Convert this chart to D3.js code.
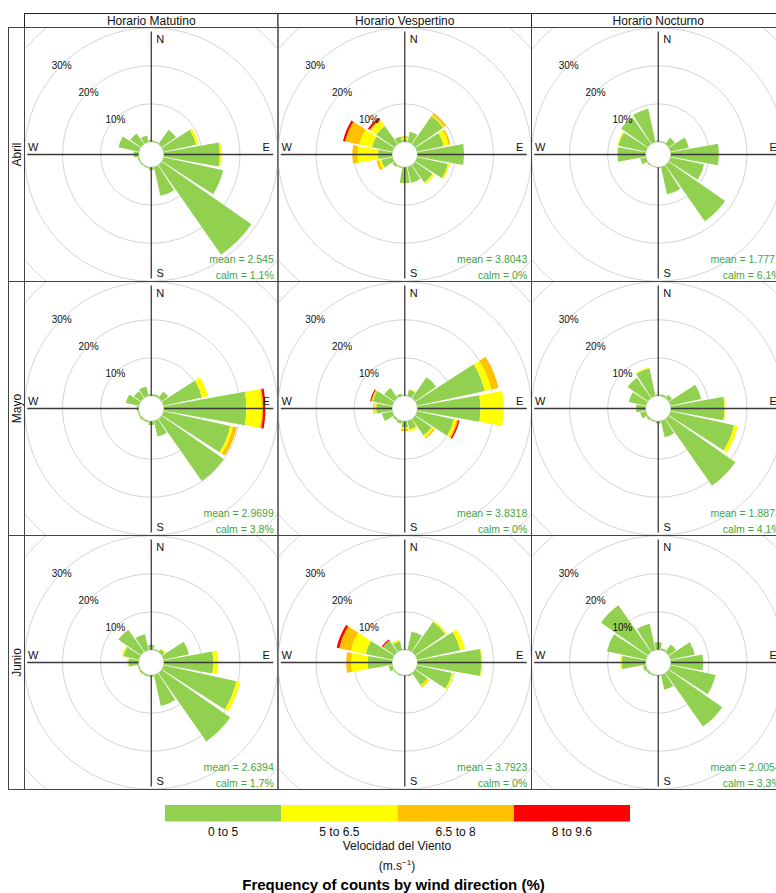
<!DOCTYPE html>
<html>
<head>
<meta charset="utf-8">
<script src="https://cdn.jsdelivr.net/npm/d3@7"></script>
<style>
  html, body { margin: 0; padding: 0; background: #fff; }
  svg { display: block; font-family: Arial, "Liberation Sans", Helvetica, sans-serif; }
</style>
</head>
<body>
<svg id="chart" width="776" height="893"></svg>
<script>
// Wind direction sectors (degrees from north, clockwise), 16 sectors
const directions = [0, 22.5, 45, 67.5, 90, 112.5, 135, 157.5, 180, 202.5, 225, 247.5, 270, 292.5, 315, 337.5];
const months = ["Abril", "Mayo", "Junio"];
const periods = ["Horario Matutino", "Horario Vespertino", "Horario Nocturno"];
const speedBins = ["0 to 5", "5 to 6.5", "6.5 to 8", "8 to 9.6"];
const binColors = ["#92D050", "#FFFF00", "#FFC000", "#FF0000"];
const ringValues = [10, 20, 30];

// Frequency (%) per sector, one row per speed bin: [0-5, 5-6.5, 6.5-8, 8-9.6]
//                   N    NNE  NE   ENE   E     ESE   SE    SSE  S    SSW  SW   WSW  W    WNW  NW   NNW
const abrilMatutino = [
  [0.5, 0.3, 4.6, 8.7, 14.7, 16.0, 28.8, 7.8, 0.8, 0.3, 0.3, 0.3, 1.3, 5.5, 3.4, 1.8],
  [0,   0,   0,   0.7, 0.4,  0,    0,    0,   0,   0,   0,   0,   0,   0,   0,   0],
  [0,   0,   0,   0,   0,    0,    0,    0,   0,   0,   0,   0,   0,   0,   0,   0],
  [0,   0,   0,   0,   0,    0,    0,    0,   0,   0,   0,   0,   0,   0,   0,   0]
];
const abrilVespertino = [
  [0.6, 2.8, 9.0, 7.2, 12.3, 8.3, 5.6, 4.3, 4.2, 0.3, 0.7, 3.0, 3.7, 5.5, 5.8, 1.5],
  [0.5, 0,   0.3, 1.3, 0,    0.4, 0.5, 0,   0,   0,   0,   0.6, 5.4, 3.4, 1.8, 0],
  [0.4, 0,   0.6, 0.5, 0,    0,   0,   0,   0,   0,   0,   0.7, 1.4, 3.8, 0.4, 0],
  [0,   0,   0,   0,   0,    0,   0,   0,   0,   0,   0,   0,   0,   0.6, 0.5, 0]
];
const abrilNocturno = [
  [0.3, 0.3, 2.0, 4.9, 12.6, 9.0, 18.1, 7.4, 0.2, 0.2, 0.3, 1.5, 7.4, 7.4, 8.6, 9.0],
  [0,   0,   0,   0,   0,    0,   0,    0,   0,   0,   0,   0,   0,   0.3, 0,   0],
  [0,   0,   0,   0,   0,    0,   0,    0,   0,   0,   0,   0,   0,   0,   0,   0],
  [0,   0,   0,   0,   0,    0,   0,    0,   0,   0,   0,   0,   0,   0,   0,   0]
];
const mayoMatutino = [
  [0.5, 0.5, 2.1, 10.3, 21.7, 18.0, 19.9, 4.2, 1.0, 0.4, 0.5, 0.3, 0.5, 3.5, 2.2, 2.6],
  [0,   0,   0,   1.6,  4.0,  0.7,  0,    0,   0,   0,   0,   0,   0,   0,   0,   0],
  [0,   0,   0,   0,    0.4,  1.0,  0,    0,   0,   0,   0,   0,   0,   0,   0,   0],
  [0,   0,   0,   0,    0.6,  0,    0,    0,   0,   0,   0,   0,   0,   0,   0,   0]
];
const mayoVespertino = [
  [0.3, 1.7, 6.7, 18.2, 16.6, 9.9, 5.3, 2.3, 1.7, 0.8, 0.5, 2.8, 4.2, 5.3, 3.2, 0.7],
  [0,   0.3, 0,   1.8,  6.1,  0.7, 0.6, 0.5, 0.4, 0,   0,   0,   0.5, 0.4, 0,   0],
  [0,   0,   0,   1.9,  0,    0.4, 0.4, 0,   0.5, 0,   0,   0,   0.3, 0,   0,   0],
  [0,   0,   0,   0,    0,    0.4, 0,   0,   0,   0,   0,   0,   0,   0.3, 0,   0]
];
const mayoNocturno = [
  [0.4, 0.5, 1.1, 8.2, 14.1, 17.1, 21.4, 4.4, 0.6, 0.3, 0.5, 1.5, 2.5, 4.6, 6.5, 7.5],
  [0,   0,   0,   0,   0.2,  1.0,  0,    0,   0,   0,   0,   0,   0,   0,   0,   0.3],
  [0,   0,   0,   0,   0,    0,    0,    0,   0,   0,   0,   0,   0,   0,   0,   0],
  [0,   0,   0,   0,   0,    0,    0,    0,   0,   0,   0,   0,   0,   0,   0,   0]
];
const junioMatutino = [
  [1.3, 0.3, 0.9, 6.8, 13.0, 19.6, 22.0, 8.4, 0.5, 0.4, 0.5, 0.3, 2.7, 4.2, 7.2, 4.3],
  [0,   0,   0.3, 0,   1.3,  1.0,  0,    0,   0,   0,   0,   0,   0.3, 0.4, 0,   0],
  [0,   0,   0,   0,   0,    0,    0,    0,   0,   0,   0,   0,   0,   0,   0,   0],
  [0,   0,   0,   0,   0,    0,    0,    0,   0,   0,   0,   0,   0,   0,   0,   0]
];
const junioVespertino = [
  [0.3, 5.0, 9.7, 11.6, 16.8, 9.4, 4.0, 0.4, 0.3, 0.3, 0.3, 1.0, 6.4, 7.2, 3.7, 2.4],
  [0,   0,   0.4, 1.3,  0.3,  0.4, 0.3, 0,   0,   0,   0,   0,   4.4, 4.0, 0,   0.4],
  [0,   0,   0,   0,    0,    0,   0.3, 0,   0,   0,   0,   0,   1.3, 3.1, 0,   0],
  [0,   0,   0,   0,    0,    0,   0,   0,   0,   0,   0,   0,   0,   0.7, 0.3, 0]
];
const junioNocturno = [
  [2.0, 0.5, 2.4, 6.5, 8.5, 12.1, 17.2, 4.0, 0.3, 0.3, 0.5, 0.8, 6.3, 10.5, 15.0, 7.1],
  [0,   0,   0,   0,   0,   0,    0,    0,   0,   0,   0,   0,   0.4, 0,    0,    0],
  [0,   0,   0,   0,   0,   0,    0,    0,   0,   0,   0,   0,   0,   0,    0,    0],
  [0,   0,   0,   0,   0,   0,    0,    0,   0,   0,   0,   0,   0,   0,    0,    0]
];

const panelData = [
  [abrilMatutino, abrilVespertino, abrilNocturno],
  [mayoMatutino, mayoVespertino, mayoNocturno],
  [junioMatutino, junioVespertino, junioNocturno]
];
const meanSpeeds = [
  ["2.545", "3.8043", "1.7771"],
  ["2.9699", "3.8318", "1.8873"],
  ["2.6394", "3.7923", "2.0054"]
];
const calmPercents = [
  ["1.1", "0", "6.1"],
  ["3.8", "0", "4.1"],
  ["1.7", "0", "3.3"]
];

// ---- layout ----
const svg = d3.select("#chart");
const panelW = 253.5, panelH = 254;
const gridLeft = 24.5, gridTop = 27.5;
const stripTop = 13.5, stripLeft = 8.5;
const sectorHalf = 22.5 * 0.9 / 2;

// radial scale: frequency (%) -> radius, with a central calm hole
const r = d3.scaleLinear().domain([0, 30]).range([12.7, 126.7]);

svg.append("rect").attr("width", 776).attr("height", 893).attr("fill", "#fff");

const defs = svg.append("defs");
const arc = d3.arc();
const toRad = d => d * Math.PI / 180;

periods.forEach((p, ci) => {
  const x0 = gridLeft + ci * panelW;
  svg.append("rect").attr("x", x0).attr("y", stripTop).attr("width", panelW).attr("height", gridTop - stripTop)
    .attr("fill", "#fff").attr("stroke", "#222").attr("stroke-width", 1);
  svg.append("text").attr("x", x0 + panelW / 2).attr("y", gridTop - 3)
    .attr("text-anchor", "middle").attr("font-size", 12).attr("fill", "#111").text(p);
});

months.forEach((m, ri) => {
  const y0 = gridTop + ri * panelH;
  svg.append("rect").attr("x", stripLeft).attr("y", y0).attr("width", gridLeft - stripLeft).attr("height", panelH)
    .attr("fill", "#fff").attr("stroke", "#444").attr("stroke-width", 1);
  svg.append("text")
    .attr("transform", `translate(${gridLeft - 3.5},${y0 + panelH / 2}) rotate(-90)`)
    .attr("text-anchor", "middle").attr("font-size", 12).attr("fill", "#111").text(m);
});

panelData.forEach((row, ri) => {
  row.forEach((bins, ci) => {
    const x0 = gridLeft + ci * panelW, y0 = gridTop + ri * panelH;
    const cx = x0 + panelW / 2, cy = y0 + panelH / 2;
    const clipId = `clip-${ri}-${ci}`;
    defs.append("clipPath").attr("id", clipId)
      .append("rect").attr("x", x0).attr("y", y0).attr("width", panelW).attr("height", panelH);

    const g = svg.append("g").attr("clip-path", `url(#${clipId})`);
    const c = g.append("g").attr("transform", `translate(${cx},${cy})`);

    // grid rings (calm circle plus 10% steps)
    [0, 10, 20, 30, 40].forEach(v => {
      c.append("circle").attr("r", r(v)).attr("fill", "none")
        .attr("stroke", "#d4d4d4").attr("stroke-width", 1);
    });

    // stacked wedges per sector
    directions.forEach((dir, di) => {
      let cum = 0;
      bins.forEach((vals, bi) => {
        const v = vals[di];
        if (v <= 0) return;
        c.append("path")
          .attr("d", arc({
            innerRadius: r(cum), outerRadius: r(cum + v),
            startAngle: toRad(dir - sectorHalf), endAngle: toRad(dir + sectorHalf)
          }))
          .attr("fill", binColors[bi]);
        cum += v;
      });
    });

    // ring labels at the NW diagonal
    ringValues.forEach(v => {
      const rr = r(v);
      c.append("text")
        .attr("x", -rr * Math.SQRT1_2).attr("y", -rr * Math.SQRT1_2 + 4)
        .attr("text-anchor", "middle").attr("font-size", 10).attr("fill", "#111")
        .text(v + "%");
    });

    // axis cross
    const axisCol = "#3a3a3a";
    c.append("line").attr("x1", 0).attr("x2", 0).attr("y1", -123).attr("y2", -r(0))
      .attr("stroke", axisCol).attr("stroke-width", 1.3);
    c.append("line").attr("x1", 0).attr("x2", 0).attr("y1", r(0)).attr("y2", 124)
      .attr("stroke", axisCol).attr("stroke-width", 1.3);
    c.append("line").attr("x1", -124).attr("x2", -r(0)).attr("y1", 0).attr("y2", 0)
      .attr("stroke", axisCol).attr("stroke-width", 1.3);
    c.append("line").attr("x1", r(0)).attr("x2", 122).attr("y1", 0).attr("y2", 0)
      .attr("stroke", axisCol).attr("stroke-width", 1.3);

    // compass labels
    const compass = [["N", 9, -112], ["S", 9, 122], ["W", -118, -4], ["E", 115, -4]];
    compass.forEach(([t, dx, dy]) => {
      c.append("text").attr("x", dx).attr("y", dy).attr("text-anchor", "middle")
        .attr("font-size", 11).attr("fill", "#111").text(t);
    });

    // mean and calm annotations
    c.append("text").attr("x", 122.5).attr("y", 108.5).attr("text-anchor", "end")
      .attr("font-size", 10.5).attr("fill", "#44a544").text(`mean = ${meanSpeeds[ri][ci]}`);
    c.append("text").attr("x", 122.5).attr("y", 124.5).attr("text-anchor", "end")
      .attr("font-size", 10.5).attr("fill", "#44a544").text(`calm = ${calmPercents[ri][ci]}%`);

    // panel frame
    svg.append("rect").attr("x", x0).attr("y", y0).attr("width", panelW).attr("height", panelH)
      .attr("fill", "none").attr("stroke", "#444").attr("stroke-width", 1);
  });
});

// ---- legend ----
const legendX = d3.scaleBand().domain(speedBins).range([165, 630]).padding(0);
const legend = svg.append("g");
speedBins.forEach((b, i) => {
  legend.append("rect").attr("x", legendX(b)).attr("y", 805).attr("width", legendX.bandwidth()).attr("height", 16.5)
    .attr("fill", binColors[i]);
  legend.append("text").attr("x", legendX(b) + legendX.bandwidth() / 2).attr("y", 836)
    .attr("text-anchor", "middle").attr("font-size", 12).attr("fill", "#111").text(b);
});
legend.append("text").attr("x", 397).attr("y", 849.5).attr("text-anchor", "middle")
  .attr("font-size", 12).attr("fill", "#111").text("Velocidad del Viento");
const unit = legend.append("text").attr("x", 397).attr("y", 870).attr("text-anchor", "middle")
  .attr("font-size", 12).attr("fill", "#111");
unit.append("tspan").text("(m.s");
unit.append("tspan").attr("dy", -5).attr("font-size", 8).text("−1");
unit.append("tspan").attr("dy", 5).text(")");
svg.append("text").attr("x", 393.5).attr("y", 890).attr("text-anchor", "middle")
  .attr("font-size", 15).attr("font-weight", "bold").attr("fill", "#000")
  .text("Frequency of counts by wind direction (%)");
</script>
</body>
</html>
